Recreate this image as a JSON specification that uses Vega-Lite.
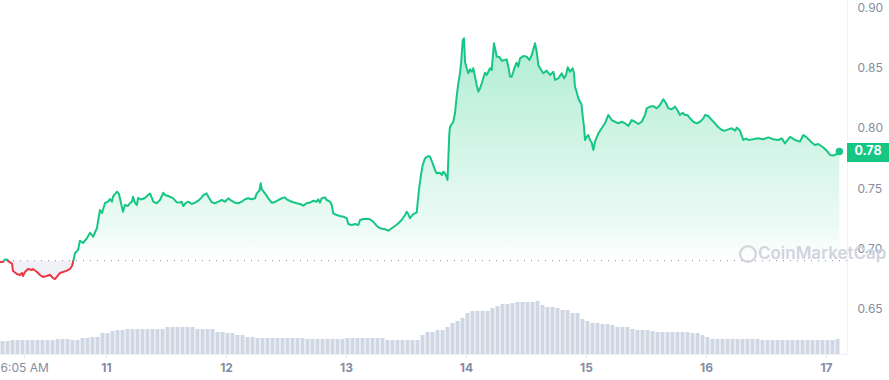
{
 "$schema": "https://vega.github.io/schema/vega-lite/v6.json",
 "width": 847, "height": 354,
 "autosize": {"type": "none"},
 "padding": {"left": 0, "top": 0, "right": 42, "bottom": 26},
 "background": "#ffffff",
 "config": {"view": {"stroke": null}, "font": "Inter", "scale": {"continuousPadding": 0}},
 "datasets": {
  "price": [
   {"t":10.117,"p":0.6889,"s":"down","g":1},{"t":10.142,"p":0.6889,"s":"down","g":1},{"t":10.150,"p":0.690,"s":"down","g":1},
   {"t":10.150,"p":0.690,"s":"up","g":2},{"t":10.158,"p":0.6909,"s":"up","g":2},{"t":10.175,"p":0.6909,"s":"up","g":2},{"t":10.183,"p":0.690,"s":"up","g":2},
   {"t":10.183,"p":0.690,"s":"down","g":3},{"t":10.192,"p":0.6889,"s":"down","g":3},{"t":10.217,"p":0.6876,"s":"down","g":3},{"t":10.225,"p":0.6814,"s":"down","g":3},{"t":10.258,"p":0.6789,"s":"down","g":3},{"t":10.283,"p":0.6781,"s":"down","g":3},{"t":10.300,"p":0.6798,"s":"down","g":3},{"t":10.308,"p":0.6773,"s":"down","g":3},{"t":10.325,"p":0.6806,"s":"down","g":3},{"t":10.350,"p":0.6831,"s":"down","g":3},{"t":10.383,"p":0.6822,"s":"down","g":3},{"t":10.392,"p":0.6831,"s":"down","g":3},{"t":10.425,"p":0.6806,"s":"down","g":3},{"t":10.450,"p":0.6781,"s":"down","g":3},{"t":10.475,"p":0.6765,"s":"down","g":3},{"t":10.508,"p":0.6773,"s":"down","g":3},{"t":10.533,"p":0.6783,"s":"down","g":3},{"t":10.558,"p":0.6756,"s":"down","g":3},{"t":10.575,"p":0.6748,"s":"down","g":3},{"t":10.592,"p":0.6767,"s":"down","g":3},{"t":10.617,"p":0.6798,"s":"down","g":3},{"t":10.642,"p":0.6806,"s":"down","g":3},{"t":10.675,"p":0.6817,"s":"down","g":3},{"t":10.700,"p":0.6831,"s":"down","g":3},{"t":10.717,"p":0.6856,"s":"down","g":3},{"t":10.728,"p":0.690,"s":"down","g":3},
   {"t":10.728,"p":0.690,"s":"up","g":4},{"t":10.742,"p":0.6963,"s":"up","g":4},{"t":10.767,"p":0.6988,"s":"up","g":4},{"t":10.783,"p":0.7065,"s":"up","g":4},{"t":10.808,"p":0.7046,"s":"up","g":4},{"t":10.842,"p":0.7087,"s":"up","g":4},{"t":10.867,"p":0.7131,"s":"up","g":4},{"t":10.892,"p":0.7098,"s":"up","g":4},{"t":10.925,"p":0.7170,"s":"up","g":4},{"t":10.938,"p":0.7253,"s":"up","g":4},{"t":10.950,"p":0.7319,"s":"up","g":4},{"t":10.967,"p":0.7294,"s":"up","g":4},{"t":10.992,"p":0.7377,"s":"up","g":4},{"t":11.017,"p":0.7388,"s":"up","g":4},{"t":11.033,"p":0.7410,"s":"up","g":4},{"t":11.050,"p":0.7388,"s":"up","g":4},{"t":11.058,"p":0.7429,"s":"up","g":4},{"t":11.092,"p":0.7471,"s":"up","g":4},{"t":11.108,"p":0.7452,"s":"up","g":4},{"t":11.125,"p":0.7377,"s":"up","g":4},{"t":11.142,"p":0.7305,"s":"up","g":4},{"t":11.158,"p":0.7361,"s":"up","g":4},{"t":11.183,"p":0.7352,"s":"up","g":4},{"t":11.200,"p":0.7377,"s":"up","g":4},{"t":11.217,"p":0.7388,"s":"up","g":4},{"t":11.225,"p":0.7429,"s":"up","g":4},{"t":11.242,"p":0.7377,"s":"up","g":4},{"t":11.258,"p":0.7361,"s":"up","g":4},{"t":11.267,"p":0.7419,"s":"up","g":4},{"t":11.292,"p":0.7406,"s":"up","g":4},{"t":11.325,"p":0.7419,"s":"up","g":4},{"t":11.350,"p":0.7443,"s":"up","g":4},{"t":11.367,"p":0.7456,"s":"up","g":4},{"t":11.394,"p":0.7388,"s":"up","g":4},{"t":11.422,"p":0.7375,"s":"up","g":4},{"t":11.450,"p":0.7402,"s":"up","g":4},{"t":11.478,"p":0.7462,"s":"up","g":4},{"t":11.492,"p":0.7443,"s":"up","g":4},{"t":11.519,"p":0.7435,"s":"up","g":4},{"t":11.561,"p":0.7416,"s":"up","g":4},{"t":11.589,"p":0.7383,"s":"up","g":4},{"t":11.617,"p":0.7381,"s":"up","g":4},{"t":11.631,"p":0.7388,"s":"up","g":4},{"t":11.644,"p":0.7352,"s":"up","g":4},{"t":11.663,"p":0.7377,"s":"up","g":4},{"t":11.686,"p":0.7388,"s":"up","g":4},{"t":11.714,"p":0.7369,"s":"up","g":4},{"t":11.742,"p":0.7380,"s":"up","g":4},{"t":11.769,"p":0.7396,"s":"up","g":4},{"t":11.798,"p":0.7424,"s":"up","g":4},{"t":11.811,"p":0.7443,"s":"up","g":4},{"t":11.839,"p":0.7457,"s":"up","g":4},{"t":11.853,"p":0.7429,"s":"up","g":4},{"t":11.881,"p":0.7383,"s":"up","g":4},{"t":11.908,"p":0.7375,"s":"up","g":4},{"t":11.936,"p":0.7388,"s":"up","g":4},{"t":11.964,"p":0.7402,"s":"up","g":4},{"t":11.992,"p":0.7388,"s":"up","g":4},{"t":12.019,"p":0.7416,"s":"up","g":4},{"t":12.048,"p":0.7394,"s":"up","g":4},{"t":12.075,"p":0.7380,"s":"up","g":4},{"t":12.103,"p":0.7375,"s":"up","g":4},{"t":12.131,"p":0.7388,"s":"up","g":4},{"t":12.158,"p":0.7408,"s":"up","g":4},{"t":12.186,"p":0.7416,"s":"up","g":4},{"t":12.214,"p":0.7408,"s":"up","g":4},{"t":12.242,"p":0.7416,"s":"up","g":4},{"t":12.256,"p":0.7457,"s":"up","g":4},{"t":12.278,"p":0.7479,"s":"up","g":4},{"t":12.289,"p":0.7540,"s":"up","g":4},{"t":12.298,"p":0.7491,"s":"up","g":4},{"t":12.325,"p":0.7457,"s":"up","g":4},{"t":12.353,"p":0.7416,"s":"up","g":4},{"t":12.381,"p":0.7380,"s":"up","g":4},{"t":12.408,"p":0.7386,"s":"up","g":4},{"t":12.436,"p":0.7402,"s":"up","g":4},{"t":12.464,"p":0.7416,"s":"up","g":4},{"t":12.492,"p":0.7424,"s":"up","g":4},{"t":12.506,"p":0.7408,"s":"up","g":4},{"t":12.533,"p":0.7394,"s":"up","g":4},{"t":12.561,"p":0.7383,"s":"up","g":4},{"t":12.589,"p":0.7375,"s":"up","g":4},{"t":12.617,"p":0.7369,"s":"up","g":4},{"t":12.644,"p":0.7355,"s":"up","g":4},{"t":12.672,"p":0.7375,"s":"up","g":4},{"t":12.700,"p":0.7381,"s":"up","g":4},{"t":12.728,"p":0.7396,"s":"up","g":4},{"t":12.756,"p":0.7388,"s":"up","g":4},{"t":12.769,"p":0.7408,"s":"up","g":4},{"t":12.783,"p":0.7380,"s":"up","g":4},{"t":12.797,"p":0.7416,"s":"up","g":4},{"t":12.825,"p":0.7424,"s":"up","g":4},{"t":12.839,"p":0.7402,"s":"up","g":4},{"t":12.867,"p":0.7388,"s":"up","g":4},{"t":12.881,"p":0.7361,"s":"up","g":4},{"t":12.894,"p":0.7292,"s":"up","g":4},{"t":12.922,"p":0.7278,"s":"up","g":4},{"t":12.950,"p":0.7270,"s":"up","g":4},{"t":12.978,"p":0.7264,"s":"up","g":4},{"t":13.006,"p":0.7251,"s":"up","g":4},{"t":13.019,"p":0.7203,"s":"up","g":4},{"t":13.047,"p":0.7195,"s":"up","g":4},{"t":13.075,"p":0.7203,"s":"up","g":4},{"t":13.103,"p":0.7195,"s":"up","g":4},{"t":13.117,"p":0.7236,"s":"up","g":4},{"t":13.144,"p":0.7245,"s":"up","g":4},{"t":13.172,"p":0.7247,"s":"up","g":4},{"t":13.200,"p":0.7242,"s":"up","g":4},{"t":13.228,"p":0.7222,"s":"up","g":4},{"t":13.256,"p":0.7187,"s":"up","g":4},{"t":13.283,"p":0.7168,"s":"up","g":4},{"t":13.325,"p":0.7160,"s":"up","g":4},{"t":13.353,"p":0.7148,"s":"up","g":4},{"t":13.381,"p":0.7168,"s":"up","g":4},{"t":13.408,"p":0.7187,"s":"up","g":4},{"t":13.436,"p":0.7209,"s":"up","g":4},{"t":13.464,"p":0.7236,"s":"up","g":4},{"t":13.492,"p":0.7278,"s":"up","g":4},{"t":13.506,"p":0.7305,"s":"up","g":4},{"t":13.519,"p":0.7286,"s":"up","g":4},{"t":13.533,"p":0.7251,"s":"up","g":4},{"t":13.548,"p":0.7270,"s":"up","g":4},{"t":13.561,"p":0.7286,"s":"up","g":4},{"t":13.589,"p":0.7297,"s":"up","g":4},{"t":13.594,"p":0.7347,"s":"up","g":4},{"t":13.608,"p":0.7485,"s":"up","g":4},{"t":13.623,"p":0.7595,"s":"up","g":4},{"t":13.639,"p":0.7692,"s":"up","g":4},{"t":13.658,"p":0.7747,"s":"up","g":4},{"t":13.686,"p":0.7766,"s":"up","g":4},{"t":13.700,"p":0.7761,"s":"up","g":4},{"t":13.714,"p":0.7727,"s":"up","g":4},{"t":13.742,"p":0.7650,"s":"up","g":4},{"t":13.756,"p":0.7623,"s":"up","g":4},{"t":13.783,"p":0.7628,"s":"up","g":4},{"t":13.798,"p":0.7609,"s":"up","g":4},{"t":13.811,"p":0.7636,"s":"up","g":4},{"t":13.825,"p":0.7623,"s":"up","g":4},{"t":13.839,"p":0.7592,"s":"up","g":4},{"t":13.846,"p":0.7568,"s":"up","g":4},{"t":13.861,"p":0.7954,"s":"up","g":4},{"t":13.867,"p":0.8009,"s":"up","g":4},{"t":13.894,"p":0.8050,"s":"up","g":4},{"t":13.908,"p":0.8120,"s":"up","g":4},{"t":13.922,"p":0.8257,"s":"up","g":4},{"t":13.936,"p":0.8368,"s":"up","g":4},{"t":13.950,"p":0.8451,"s":"up","g":4},{"t":13.961,"p":0.8561,"s":"up","g":4},{"t":13.973,"p":0.8727,"s":"up","g":4},{"t":13.983,"p":0.8741,"s":"up","g":4},{"t":13.992,"p":0.8547,"s":"up","g":4},{"t":14.006,"p":0.8493,"s":"up","g":4},{"t":14.019,"p":0.8451,"s":"up","g":4},{"t":14.033,"p":0.8484,"s":"up","g":4},{"t":14.048,"p":0.8464,"s":"up","g":4},{"t":14.061,"p":0.8493,"s":"up","g":4},{"t":14.075,"p":0.8423,"s":"up","g":4},{"t":14.089,"p":0.8354,"s":"up","g":4},{"t":14.103,"p":0.8299,"s":"up","g":4},{"t":14.117,"p":0.8327,"s":"up","g":4},{"t":14.131,"p":0.8368,"s":"up","g":4},{"t":14.144,"p":0.8410,"s":"up","g":4},{"t":14.158,"p":0.8456,"s":"up","g":4},{"t":14.172,"p":0.8437,"s":"up","g":4},{"t":14.186,"p":0.8464,"s":"up","g":4},{"t":14.200,"p":0.8493,"s":"up","g":4},{"t":14.214,"p":0.8478,"s":"up","g":4},{"t":14.233,"p":0.8700,"s":"up","g":4},{"t":14.248,"p":0.8630,"s":"up","g":4},{"t":14.256,"p":0.8589,"s":"up","g":4},{"t":14.278,"p":0.8589,"s":"up","g":4},{"t":14.298,"p":0.8555,"s":"up","g":4},{"t":14.325,"p":0.8561,"s":"up","g":4},{"t":14.339,"p":0.8567,"s":"up","g":4},{"t":14.353,"p":0.8506,"s":"up","g":4},{"t":14.367,"p":0.8423,"s":"up","g":4},{"t":14.381,"p":0.8423,"s":"up","g":4},{"t":14.394,"p":0.8464,"s":"up","g":4},{"t":14.408,"p":0.8506,"s":"up","g":4},{"t":14.422,"p":0.8539,"s":"up","g":4},{"t":14.436,"p":0.8506,"s":"up","g":4},{"t":14.450,"p":0.8575,"s":"up","g":4},{"t":14.478,"p":0.8594,"s":"up","g":4},{"t":14.506,"p":0.8589,"s":"up","g":4},{"t":14.528,"p":0.8561,"s":"up","g":4},{"t":14.548,"p":0.8603,"s":"up","g":4},{"t":14.575,"p":0.8700,"s":"up","g":4},{"t":14.589,"p":0.8630,"s":"up","g":4},{"t":14.603,"p":0.8520,"s":"up","g":4},{"t":14.617,"p":0.8493,"s":"up","g":4},{"t":14.644,"p":0.8451,"s":"up","g":4},{"t":14.672,"p":0.8473,"s":"up","g":4},{"t":14.700,"p":0.8437,"s":"up","g":4},{"t":14.728,"p":0.8464,"s":"up","g":4},{"t":14.742,"p":0.8396,"s":"up","g":4},{"t":14.769,"p":0.8410,"s":"up","g":4},{"t":14.798,"p":0.8451,"s":"up","g":4},{"t":14.817,"p":0.8410,"s":"up","g":4},{"t":14.833,"p":0.8437,"s":"up","g":4},{"t":14.848,"p":0.8501,"s":"up","g":4},{"t":14.867,"p":0.8464,"s":"up","g":4},{"t":14.889,"p":0.8493,"s":"up","g":4},{"t":14.900,"p":0.8451,"s":"up","g":4},{"t":14.908,"p":0.8340,"s":"up","g":4},{"t":14.922,"p":0.8299,"s":"up","g":4},{"t":14.936,"p":0.8244,"s":"up","g":4},{"t":14.950,"p":0.8216,"s":"up","g":4},{"t":14.962,"p":0.8197,"s":"up","g":4},{"t":14.973,"p":0.8092,"s":"up","g":4},{"t":14.983,"p":0.8009,"s":"up","g":4},{"t":14.992,"p":0.7899,"s":"up","g":4},{"t":15.006,"p":0.7926,"s":"up","g":4},{"t":15.019,"p":0.7940,"s":"up","g":4},{"t":15.033,"p":0.7899,"s":"up","g":4},{"t":15.048,"p":0.7876,"s":"up","g":4},{"t":15.061,"p":0.7816,"s":"up","g":4},{"t":15.075,"p":0.7886,"s":"up","g":4},{"t":15.103,"p":0.7954,"s":"up","g":4},{"t":15.131,"p":0.7996,"s":"up","g":4},{"t":15.158,"p":0.8037,"s":"up","g":4},{"t":15.186,"p":0.8106,"s":"up","g":4},{"t":15.214,"p":0.8064,"s":"up","g":4},{"t":15.242,"p":0.8050,"s":"up","g":4},{"t":15.269,"p":0.8037,"s":"up","g":4},{"t":15.298,"p":0.8050,"s":"up","g":4},{"t":15.325,"p":0.8037,"s":"up","g":4},{"t":15.353,"p":0.8015,"s":"up","g":4},{"t":15.381,"p":0.8064,"s":"up","g":4},{"t":15.408,"p":0.8050,"s":"up","g":4},{"t":15.436,"p":0.8031,"s":"up","g":4},{"t":15.464,"p":0.8050,"s":"up","g":4},{"t":15.492,"p":0.8106,"s":"up","g":4},{"t":15.506,"p":0.8161,"s":"up","g":4},{"t":15.533,"p":0.8175,"s":"up","g":4},{"t":15.561,"p":0.8180,"s":"up","g":4},{"t":15.589,"p":0.8161,"s":"up","g":4},{"t":15.617,"p":0.8189,"s":"up","g":4},{"t":15.644,"p":0.8236,"s":"up","g":4},{"t":15.667,"p":0.8203,"s":"up","g":4},{"t":15.686,"p":0.8161,"s":"up","g":4},{"t":15.714,"p":0.8153,"s":"up","g":4},{"t":15.742,"p":0.8175,"s":"up","g":4},{"t":15.761,"p":0.8147,"s":"up","g":4},{"t":15.783,"p":0.8106,"s":"up","g":4},{"t":15.806,"p":0.8125,"s":"up","g":4},{"t":15.825,"p":0.8106,"s":"up","g":4},{"t":15.844,"p":0.8106,"s":"up","g":4},{"t":15.867,"p":0.8078,"s":"up","g":4},{"t":15.894,"p":0.8050,"s":"up","g":4},{"t":15.922,"p":0.8037,"s":"up","g":4},{"t":15.950,"p":0.8050,"s":"up","g":4},{"t":15.978,"p":0.8078,"s":"up","g":4},{"t":15.992,"p":0.8106,"s":"up","g":4},{"t":16.019,"p":0.8098,"s":"up","g":4},{"t":16.048,"p":0.8064,"s":"up","g":4},{"t":16.075,"p":0.8037,"s":"up","g":4},{"t":16.103,"p":0.8004,"s":"up","g":4},{"t":16.131,"p":0.7982,"s":"up","g":4},{"t":16.158,"p":0.7976,"s":"up","g":4},{"t":16.186,"p":0.7987,"s":"up","g":4},{"t":16.214,"p":0.7996,"s":"up","g":4},{"t":16.242,"p":0.7976,"s":"up","g":4},{"t":16.256,"p":0.8001,"s":"up","g":4},{"t":16.283,"p":0.7977,"s":"up","g":4},{"t":16.311,"p":0.7899,"s":"up","g":4},{"t":16.333,"p":0.7911,"s":"up","g":4},{"t":16.353,"p":0.7899,"s":"up","g":4},{"t":16.392,"p":0.7905,"s":"up","g":4},{"t":16.436,"p":0.7913,"s":"up","g":4},{"t":16.478,"p":0.7905,"s":"up","g":4},{"t":16.519,"p":0.7921,"s":"up","g":4},{"t":16.561,"p":0.7905,"s":"up","g":4},{"t":16.603,"p":0.7899,"s":"up","g":4},{"t":16.631,"p":0.7913,"s":"up","g":4},{"t":16.658,"p":0.7871,"s":"up","g":4},{"t":16.700,"p":0.7924,"s":"up","g":4},{"t":16.742,"p":0.7899,"s":"up","g":4},{"t":16.783,"p":0.7885,"s":"up","g":4},{"t":16.811,"p":0.7940,"s":"up","g":4},{"t":16.839,"p":0.7921,"s":"up","g":4},{"t":16.881,"p":0.7878,"s":"up","g":4},{"t":16.908,"p":0.7857,"s":"up","g":4},{"t":16.936,"p":0.7866,"s":"up","g":4},{"t":16.978,"p":0.7837,"s":"up","g":4},{"t":17.006,"p":0.7810,"s":"up","g":4},{"t":17.033,"p":0.7775,"s":"up","g":4},{"t":17.061,"p":0.7770,"s":"up","g":4},{"t":17.089,"p":0.7783,"s":"up","g":4},{"t":17.111,"p":0.7804,"s":"up","g":4}
  ],
  "vol": [
   {"t":10.1375,"v":13},{"t":10.1792,"v":13},{"t":10.2208,"v":14},{"t":10.2625,"v":14},{"t":10.3042,"v":14},{"t":10.3458,"v":14},{"t":10.3875,"v":14},{"t":10.4292,"v":14},{"t":10.4708,"v":14},{"t":10.5125,"v":14},{"t":10.5542,"v":14},{"t":10.5958,"v":15},{"t":10.6375,"v":15},{"t":10.6792,"v":15},{"t":10.7208,"v":14},{"t":10.7625,"v":14},{"t":10.8042,"v":16},{"t":10.8458,"v":16},{"t":10.8875,"v":17},{"t":10.9292,"v":17},{"t":10.9708,"v":21},{"t":11.0125,"v":21},{"t":11.0542,"v":23},{"t":11.0958,"v":24},
   {"t":11.1375,"v":24},{"t":11.1792,"v":25},{"t":11.2208,"v":25},{"t":11.2625,"v":25},{"t":11.3042,"v":25},{"t":11.3458,"v":25},{"t":11.3875,"v":25},{"t":11.4292,"v":25},{"t":11.4708,"v":25},{"t":11.5125,"v":27},{"t":11.5542,"v":27},{"t":11.5958,"v":27},{"t":11.6375,"v":27},{"t":11.6792,"v":27},{"t":11.7208,"v":27},{"t":11.7625,"v":25},{"t":11.8042,"v":25},{"t":11.8458,"v":25},{"t":11.8875,"v":25},{"t":11.9292,"v":22},{"t":11.9708,"v":22},{"t":12.0125,"v":21},{"t":12.0542,"v":21},{"t":12.0958,"v":19},
   {"t":12.1375,"v":19},{"t":12.1792,"v":17},{"t":12.2208,"v":17},{"t":12.2625,"v":16},{"t":12.3042,"v":16},{"t":12.3458,"v":16},{"t":12.3875,"v":16},{"t":12.4292,"v":16},{"t":12.4708,"v":16},{"t":12.5125,"v":16},{"t":12.5542,"v":16},{"t":12.5958,"v":16},{"t":12.6375,"v":16},{"t":12.6792,"v":15},{"t":12.7208,"v":15},{"t":12.7625,"v":15},{"t":12.8042,"v":15},{"t":12.8458,"v":15},{"t":12.8875,"v":15},{"t":12.9292,"v":15},{"t":12.9708,"v":15},{"t":13.0125,"v":16},{"t":13.0542,"v":16},{"t":13.0958,"v":16},
   {"t":13.1375,"v":16},{"t":13.1792,"v":16},{"t":13.2208,"v":16},{"t":13.2625,"v":16},{"t":13.3042,"v":16},{"t":13.3458,"v":14},{"t":13.3875,"v":14},{"t":13.4292,"v":14},{"t":13.4708,"v":14},{"t":13.5125,"v":14},{"t":13.5542,"v":14},{"t":13.5958,"v":14},{"t":13.6375,"v":19},{"t":13.6792,"v":22},{"t":13.7208,"v":22},{"t":13.7625,"v":24},{"t":13.8042,"v":24},{"t":13.8458,"v":27},{"t":13.8875,"v":31},{"t":13.9292,"v":33},{"t":13.9708,"v":36},{"t":14.0125,"v":41},{"t":14.0542,"v":43},{"t":14.0958,"v":43},
   {"t":14.1375,"v":43},{"t":14.1792,"v":43},{"t":14.2208,"v":46},{"t":14.2625,"v":48},{"t":14.3042,"v":50},{"t":14.3458,"v":50},{"t":14.3875,"v":51},{"t":14.4292,"v":52},{"t":14.4708,"v":52},{"t":14.5125,"v":52},{"t":14.5542,"v":52},{"t":14.5958,"v":53},{"t":14.6375,"v":49},{"t":14.6792,"v":47},{"t":14.7208,"v":47},{"t":14.7625,"v":46},{"t":14.8042,"v":44},{"t":14.8458,"v":44},{"t":14.8875,"v":41},{"t":14.9292,"v":41},{"t":14.9708,"v":35},{"t":15.0125,"v":33},{"t":15.0542,"v":31},{"t":15.0958,"v":31},
   {"t":15.1375,"v":30},{"t":15.1792,"v":30},{"t":15.2208,"v":29},{"t":15.2625,"v":27},{"t":15.3042,"v":27},{"t":15.3458,"v":27},{"t":15.3875,"v":25},{"t":15.4292,"v":24},{"t":15.4708,"v":24},{"t":15.5125,"v":24},{"t":15.5542,"v":23},{"t":15.5958,"v":22},{"t":15.6375,"v":22},{"t":15.6792,"v":22},{"t":15.7208,"v":22},{"t":15.7625,"v":22},{"t":15.8042,"v":22},{"t":15.8458,"v":22},{"t":15.8875,"v":21},{"t":15.9292,"v":21},{"t":15.9708,"v":19},{"t":16.0125,"v":17},{"t":16.0542,"v":15},{"t":16.0958,"v":15},
   {"t":16.1375,"v":15},{"t":16.1792,"v":15},{"t":16.2208,"v":15},{"t":16.2625,"v":15},{"t":16.3042,"v":15},{"t":16.3458,"v":15},{"t":16.3875,"v":15},{"t":16.4292,"v":15},{"t":16.4708,"v":14},{"t":16.5125,"v":14},{"t":16.5542,"v":14},{"t":16.5958,"v":14},{"t":16.6375,"v":14},{"t":16.6792,"v":14},{"t":16.7208,"v":14},{"t":16.7625,"v":14},{"t":16.8042,"v":14},{"t":16.8458,"v":14},{"t":16.8875,"v":14},{"t":16.9292,"v":14},{"t":16.9708,"v":14},{"t":17.0125,"v":14},{"t":17.0542,"v":14},{"t":17.0958,"v":15}
  ]
 },
 "layer": [
  {
   "data": {"name": "vol"},
   "mark": {"type": "bar", "size": 4, "color": "#cfd6e4"},
   "encoding": {
    "x": {"field": "t", "type": "quantitative", "scale": {"domain": [10.1167, 17.175], "nice": false, "zero": false, "padding": 0},
      "axis": {"values": [10.318, 11, 12, 13, 14, 15, 16, 17], "labelExpr": "datum.value < 11 ? '6:05 AM' : format(datum.value, 'd')", "grid": false, "title": null, "domainColor": "#eff2f5", "tickColor": "#e3e6ec", "tickSize": 4, "labelPadding": 4, "labelColor": "#858ca2", "labelFontSize": 12, "labelFont": "Inter", "labelFlush": false, "labelOverlap": false, "labelFontWeight": {"condition": {"test": "datum.value < 11", "value": "normal"}, "value": "bold"}}},
    "y": {"field": "v", "type": "quantitative", "scale": {"domain": [0, 354], "nice": false, "padding": 0}, "axis": null}
   }
  },
  {
   "layer": [
    {
     "data": {"name": "price"},
     "transform": [{"filter": "datum.s === 'up'"}],
     "mark": {"type": "area", "fill": {"gradient": "linear", "x1": 0, "y1": 0, "x2": 0, "y2": 1, "stops": [{"offset": 0, "color": "rgba(22,199,132,0.34)"}, {"offset": 0.85, "color": "rgba(22,199,132,0.08)"}, {"offset": 1, "color": "rgba(22,199,132,0.0)"}]}},
     "encoding": {
      "x": {"field": "t", "type": "quantitative"},
      "y": {"field": "p", "type": "quantitative", "scale": {"domain": [0.6127, 0.9058], "nice": false, "zero": false, "padding": 0},
        "axis": {"orient": "right", "values": [0.65, 0.7, 0.75, 0.8, 0.85, 0.9], "format": ".2f", "title": null, "ticks": false, "labelPadding": 10, "gridColor": "#eff2f5", "domainColor": "#eff2f5", "labelColor": "#858ca2", "labelFontSize": 12, "labelFont": "Inter"}},
      "y2": {"datum": 0.69},
      "detail": {"field": "g"}
     }
    },
    {
     "data": {"name": "price"},
     "transform": [{"filter": "datum.s === 'down'"}],
     "mark": {"type": "area", "color": "#eceef4", "opacity": 0.8},
     "encoding": {
      "x": {"field": "t", "type": "quantitative"},
      "y": {"field": "p", "type": "quantitative"},
      "y2": {"datum": 0.69},
      "detail": {"field": "g"}
     }
    },
    {
     "data": {"values": [{}]},
     "mark": {"type": "rule", "strokeDash": [1, 6], "color": "#9aa1b3", "strokeWidth": 1.2},
     "encoding": {"y": {"datum": 0.69}}
    },
    {
     "data": {"values": [{}]},
     "mark": {"type": "point", "filled": false, "size": 250, "stroke": "#d0d4dc", "strokeWidth": 2.2, "opacity": 1},
     "encoding": {"x": {"datum": 16.35}, "y": {"datum": 0.6955}}
    },
    {
     "data": {"values": [{}]},
     "mark": {"type": "text", "text": "CoinMarketCap", "align": "left", "baseline": "middle", "fontSize": 17, "fontWeight": 600, "color": "#d0d4dc", "font": "Inter"},
     "encoding": {"x": {"datum": 16.433}, "y": {"datum": 0.6955}}
    },
    {
     "data": {"name": "price"},
     "mark": {"type": "line", "strokeWidth": 2, "strokeJoin": "round", "strokeCap": "round"},
     "encoding": {
      "x": {"field": "t", "type": "quantitative"},
      "y": {"field": "p", "type": "quantitative"},
      "color": {"field": "s", "type": "nominal", "scale": {"domain": ["up", "down"], "range": ["#16c784", "#ea3943"]}, "legend": null},
      "detail": {"field": "g"}
     }
    },
    {
     "data": {"name": "price"},
     "transform": [{"filter": "datum.t >= 17.11"}],
     "mark": {"type": "circle", "size": 55, "color": "#16c784", "opacity": 1},
     "encoding": {"x": {"field": "t", "type": "quantitative"}, "y": {"field": "p", "type": "quantitative"}}
    },
    {
     "data": {"values": [{}]},
     "mark": {"type": "rect", "color": "#16c784"},
     "encoding": {"x": {"datum": 17.175}, "x2": {"datum": 17.525}, "y": {"datum": 0.7874}, "y2": {"datum": 0.7717}}
    },
    {
     "data": {"name": "price"},
     "transform": [{"filter": "datum.t >= 17.11"}],
     "mark": {"type": "text", "align": "center", "baseline": "middle", "fontSize": 12.5, "fontWeight": "bold", "color": "#ffffff", "font": "Inter", "dy": -1},
     "encoding": {"x": {"datum": 17.35}, "y": {"datum": 0.7796}, "text": {"field": "p", "type": "quantitative", "format": ".2f"}}
    }
   ]
  }
 ],
 "resolve": {"scale": {"y": "independent"}}
}
